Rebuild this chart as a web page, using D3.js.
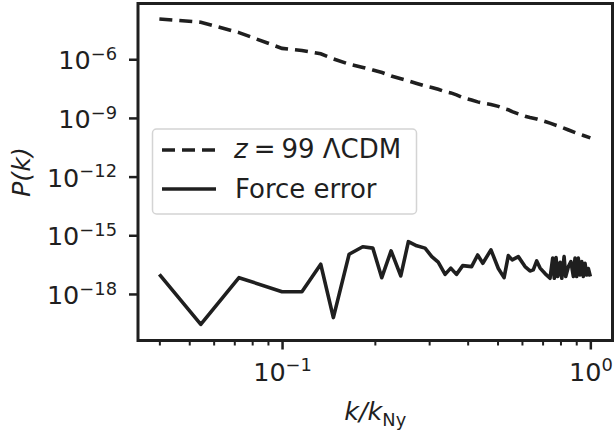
<!DOCTYPE html>
<html>
<head>
<meta charset="utf-8">
<script src="https://cdn.jsdelivr.net/npm/d3@7"></script>
<style>
  html, body { margin: 0; padding: 0; background: #fff; }
  svg { display: block; font-family: 'DejaVu Sans', sans-serif; }
</style>
</head>
<body>
<div id="chart"></div>
<script>
// linear power spectrum at z = 99
const kLinear = [0.04, 0.0545, 0.0725, 0.1, 0.116, 0.1335, 0.147, 0.165, 0.183, 0.197,
  0.211, 0.226, 0.243, 0.257, 0.2735, 0.291, 0.306, 0.321, 0.338, 0.353,
  0.368, 0.3855, 0.412, 0.431, 0.448, 0.476, 0.503, 0.525, 0.542, 0.558,
  0.584, 0.614, 0.637, 0.67, 0.713, 0.74, 0.8, 0.85, 0.9, 0.95, 1.0];
const pLinear = [1.15e-4, 7.8e-5, 2.3e-5, 3.6e-6, 2.8e-6, 1.9e-6, 1.04e-6, 5.6e-7, 3.8e-7, 2.8e-7,
  2.1e-7, 1.4e-7, 1.0e-7, 7.8e-8, 5.8e-8, 4.3e-8, 3.6e-8, 2.9e-8, 2.2e-8, 1.9e-8,
  1.5e-8, 1.1e-8, 8.3e-9, 6.6e-9, 5.7e-9, 4.9e-9, 3.9e-9, 3.0e-9, 2.6e-9, 2.1e-9,
  1.6e-9, 1.23e-9, 1.05e-9, 8.9e-10, 6.6e-10, 5.4e-10, 3.5e-10, 2.4e-10, 1.7e-10, 1.27e-10, 9.5e-11];

// force error spectrum
const kError = [0.04, 0.0545, 0.0725, 0.1, 0.116, 0.1335, 0.1467, 0.165, 0.1827, 0.197,
  0.2106, 0.2258, 0.2427, 0.2569, 0.2735, 0.291, 0.306, 0.321, 0.338, 0.3526,
  0.368, 0.3855, 0.412, 0.431, 0.448, 0.476, 0.503, 0.525, 0.542, 0.558,
  0.584, 0.614, 0.637, 0.653, 0.67, 0.687, 0.713, 0.74, 0.755, 0.764,
  0.774, 0.784, 0.798, 0.808, 0.822, 0.832, 0.849, 0.865, 0.881, 0.892,
  0.903, 0.914, 0.926, 0.938, 0.949, 0.961, 0.973, 0.985, 1.0];
const pError = [1.0e-17, 2.8e-20, 6.8e-18, 1.3e-18, 1.3e-18, 3.3e-17, 6.2e-20, 1.07e-16, 2.6e-16, 2.2e-16,
  6.8e-18, 1.6e-16, 8.3e-18, 4.7e-16, 2.9e-16, 2.2e-16, 8.1e-17, 4.2e-17, 1.0e-17, 2.1e-17,
  1.0e-17, 2.8e-17, 2.5e-17, 9.8e-17, 3.7e-17, 1.8e-16, 2.0e-17, 6.8e-18, 9.1e-17, 5.5e-17,
  8.1e-17, 2.5e-17, 1.5e-17, 1.7e-17, 4.9e-17, 2.1e-17, 1.1e-17, 6.3e-18, 6.8e-17, 6.3e-18,
  7.2e-17, 7.8e-18, 4.2e-17, 6.3e-18, 8.1e-17, 7.8e-18, 2.5e-17, 4.5e-17, 7.8e-18, 6.8e-17,
  7.8e-18, 6.8e-17, 9.3e-18, 4.5e-17, 7.8e-18, 3.7e-17, 9.3e-18, 2.0e-17, 7.8e-18];

const yTickExps = [-18, -15, -12, -9, -6];
const xTickExps = [-1, 0];
const xMinorTicks = [0.04, 0.05, 0.06, 0.07, 0.08, 0.09, 0.2, 0.3, 0.4, 0.5, 0.6, 0.7, 0.8, 0.9];

const width = 614;
const height = 431;
const marginLeft = 138;
const marginRight = 1.5;
const marginTop = 3.5;
const marginBottom = 90.5;
const ink = '#1f1f1f';
const fontSize = 25.5;

const xScale = d3.scaleLog([0.0341, 1.18], [marginLeft, width - marginRight]);
const yScale = d3.scaleLog([Math.pow(10, -20.38), Math.pow(10, -3.15)], [height - marginBottom, marginTop]);

const svg = d3.select('#chart')
  .append('svg')
  .attr('width', width)
  .attr('height', height)
  .attr('viewBox', [0, 0, width, height]);

svg.append('rect').attr('width', width).attr('height', height).attr('fill', '#fff');

// power label with superscript
function powerLabel(text, exp) {
  text.text(null);
  text.append('tspan').text('10');
  text.append('tspan')
    .attr('dy', -9.5)
    .attr('font-size', fontSize * 0.7)
    .text(exp < 0 ? '\u2212' + Math.abs(exp) : String(exp));
}

// y axis
const gy = svg.append('g')
  .attr('transform', `translate(${marginLeft},0)`)
  .call(
    d3.axisLeft(yScale)
      .tickValues(yTickExps.map((e) => Math.pow(10, e)))
      .tickSizeInner(9)
      .tickSizeOuter(0)
      .tickPadding(12),
  );
gy.select('.domain').remove();
gy.selectAll('.tick line').attr('stroke', ink).attr('stroke-width', 2.5);
gy.selectAll('.tick text')
  .attr('fill', ink)
  .attr('font-size', fontSize)
  .attr('font-family', 'DejaVu Sans')
  .attr('dy', '0.38em')
  .each(function (d, i) {
    powerLabel(d3.select(this), yTickExps[i]);
  });

// x axis minor ticks
const gxMinor = svg.append('g')
  .attr('transform', `translate(0,${height - marginBottom})`)
  .call(
    d3.axisBottom(xScale)
      .tickValues(xMinorTicks)
      .tickSizeInner(5)
      .tickSizeOuter(0)
      .tickFormat(''),
  );
gxMinor.select('.domain').remove();
gxMinor.selectAll('.tick line').attr('stroke', ink).attr('stroke-width', 2);

// x axis major ticks
const gx = svg.append('g')
  .attr('transform', `translate(0,${height - marginBottom})`)
  .call(
    d3.axisBottom(xScale)
      .tickValues(xTickExps.map((e) => Math.pow(10, e)))
      .tickSizeInner(9)
      .tickSizeOuter(0)
      .tickPadding(13),
  );
gx.select('.domain').remove();
gx.selectAll('.tick line').attr('stroke', ink).attr('stroke-width', 2.5);
gx.selectAll('.tick text')
  .attr('fill', ink)
  .attr('font-size', fontSize)
  .attr('font-family', 'DejaVu Sans')
  .attr('dy', '0.71em')
  .each(function (d, i) {
    powerLabel(d3.select(this), xTickExps[i]);
  });

// clip
svg.append('defs')
  .append('clipPath')
  .attr('id', 'clip')
  .append('rect')
  .attr('x', marginLeft)
  .attr('y', marginTop)
  .attr('width', width - marginLeft - marginRight)
  .attr('height', height - marginTop - marginBottom);

const body = svg.append('g').attr('clip-path', 'url(#clip)');

const line = d3.line()
  .x((d) => xScale(d[0]))
  .y((d) => yScale(d[1]));

body.append('path')
  .datum(d3.zip(kLinear, pLinear))
  .attr('fill', 'none')
  .attr('stroke', ink)
  .attr('stroke-width', 3.6)
  .attr('stroke-dasharray', '13,7')
  .attr('d', line);

body.append('path')
  .datum(d3.zip(kError, pError))
  .attr('fill', 'none')
  .attr('stroke', ink)
  .attr('stroke-width', 3.6)
  .attr('stroke-linejoin', 'round')
  .attr('d', line);

// frame
svg.append('rect')
  .attr('x', marginLeft)
  .attr('y', marginTop)
  .attr('width', width - marginLeft - marginRight)
  .attr('height', height - marginTop - marginBottom)
  .attr('fill', 'none')
  .attr('stroke', ink)
  .attr('stroke-width', 3);

// axis labels
svg.append('text')
  .attr('transform', `translate(30,${(marginTop + height - marginBottom) / 2}) rotate(-90)`)
  .attr('text-anchor', 'middle')
  .attr('font-size', fontSize)
  .attr('fill', ink)
  .attr('font-style', 'italic')
  .text('P(k)');

const xLabel = svg.append('text')
  .attr('x', (marginLeft + width - marginRight) / 2)
  .attr('y', 420)
  .attr('text-anchor', 'middle')
  .attr('font-size', fontSize)
  .attr('fill', ink);
xLabel.append('tspan').attr('font-style', 'italic').text('k/k');
xLabel.append('tspan').attr('dy', 6).attr('font-size', fontSize * 0.7).text('Ny');

// legend
const legend = svg.append('g');
legend.append('rect')
  .attr('x', 152.5)
  .attr('y', 129)
  .attr('width', 264)
  .attr('height', 85)
  .attr('rx', 4)
  .attr('fill', '#fff')
  .attr('fill-opacity', 0.8)
  .attr('stroke', '#d4d4d4')
  .attr('stroke-width', 1.5);

legend.append('line')
  .attr('x1', 162).attr('x2', 216)
  .attr('y1', 150).attr('y2', 150)
  .attr('stroke', ink)
  .attr('stroke-width', 3.6)
  .attr('stroke-dasharray', '13,7');

legend.append('line')
  .attr('x1', 162).attr('x2', 216)
  .attr('y1', 189).attr('y2', 189)
  .attr('stroke', ink)
  .attr('stroke-width', 3.6);

const t1 = legend.append('text')
  .attr('x', 234)
  .attr('y', 158)
  .attr('font-size', 26)
  .attr('fill', ink);
t1.append('tspan').attr('font-style', 'italic').text('z');
t1.append('tspan').attr('dx', 6).text('=');
t1.append('tspan').attr('dx', 6).text('99 \u039BCDM');

legend.append('text')
  .attr('x', 235)
  .attr('y', 198)
  .attr('font-size', 26)
  .attr('fill', ink)
  .text('Force error');
</script>
</body>
</html>
